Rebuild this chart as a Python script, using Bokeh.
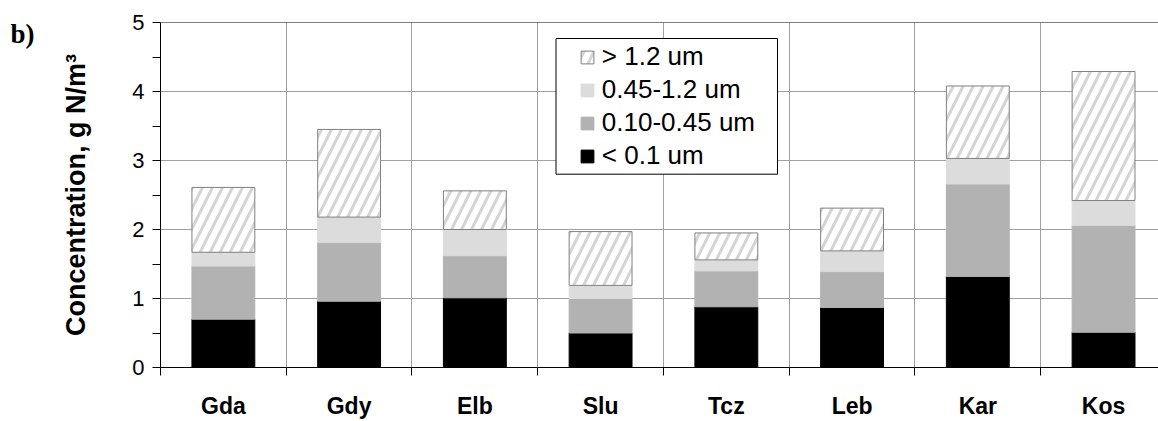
from bokeh.plotting import figure
from bokeh.models import (ColumnDataSource, FixedTicker, Range1d, Legend, LegendItem,
                          Label, BoxAnnotation, Span)
from bokeh.core.enums import CoordinateUnits
from bokeh.embed import file_html
from bokeh.resources import INLINE

# ---- data ----
categories = ["Gda", "Gdy", "Elb", "Slu", "Tcz", "Leb", "Kar", "Kos"]
below_0_1 = [0.70, 0.96, 1.01, 0.50, 0.88, 0.87, 1.32, 0.51]
from_0_10_to_0_45 = [0.77, 0.85, 0.61, 0.50, 0.52, 0.52, 1.34, 1.55]
from_0_45_to_1_2 = [0.20, 0.37, 0.38, 0.19, 0.16, 0.30, 0.37, 0.36]
above_1_2 = [0.94, 1.27, 0.56, 0.78, 0.39, 0.62, 1.05, 1.87]
series_labels = ["< 0.1 um", "0.10-0.45 um", "0.45-1.2 um", "> 1.2 um"]
y_ticks = [0, 1, 2, 3, 4, 5]
y_label = "Concentration, g N/m\u00b3"
panel_tag = "b)"

FONT = "Liberation Sans"

xpos = [i + 0.5 for i in range(len(categories))]
stackers = ["s0", "s1", "s2", "s3"]
source = ColumnDataSource(dict(x=xpos, s0=below_0_1, s1=from_0_10_to_0_45,
                               s2=from_0_45_to_1_2, s3=above_1_2))

p = figure(width=1158, height=421, output_backend="svg", toolbar_location=None,
           x_range=Range1d(0, 7.937), y_range=Range1d(0, 5),
           min_border_left=160, min_border_right=0, min_border_top=22, min_border_bottom=53)
p.outline_line_color = None
p.background_fill_color = "white"
p.border_fill_color = "white"

renderers = p.vbar_stack(stackers, x="x", width=0.5, source=source,
                         fill_color=["#000000", "#b2b2b2", "#dcdcdc", "#ffffff"],
                         line_color=["#000000", "#b2b2b2", "#dcdcdc", "#808080"],
                         hatch_pattern=[" ", " ", " ", "/"],
                         hatch_color="#d4d4d4", hatch_scale=20, hatch_weight=3)

# grids
p.xgrid.ticker = FixedTicker(ticks=list(range(1, len(categories) + 1)))
p.ygrid.ticker = FixedTicker(ticks=y_ticks[1:-1])
for g in (p.xgrid, p.ygrid):
    g.grid_line_color = "#a0a0a0"
    g.grid_line_width = 1
p.add_layout(Span(location=y_ticks[-1], dimension="width", line_color="black", line_width=1))

# y axis
ya = p.yaxis[0]
ya.ticker = FixedTicker(ticks=y_ticks, minor_ticks=[t + 0.5 for t in y_ticks[:-1]])
ya.axis_line_color = "black"
ya.major_tick_out = 8
ya.major_tick_in = 0
ya.minor_tick_out = 8
ya.minor_tick_in = 0
ya.major_tick_line_color = "black"
ya.minor_tick_line_color = "black"
ya.major_label_text_font = FONT
ya.major_label_text_font_size = "22px"
ya.major_label_text_color = "black"
ya.major_label_standoff = 8
ya.axis_label = y_label
ya.axis_label_text_font = FONT
ya.axis_label_text_font_size = "27px"
ya.axis_label_text_font_style = "bold"
ya.axis_label_text_color = "black"
ya.axis_label_standoff = 38

# x axis
xa = p.xaxis[0]
xa.ticker = FixedTicker(ticks=xpos, minor_ticks=list(range(0, len(categories) + 1)))
xa.major_label_overrides = {x: c for x, c in zip(xpos, categories)}
xa.axis_line_color = "black"
xa.major_tick_out = 0
xa.major_tick_in = 0
xa.minor_tick_out = 8
xa.minor_tick_in = 0
xa.minor_tick_line_color = "black"
xa.major_label_text_font = FONT
xa.major_label_text_font_size = "23px"
xa.major_label_text_font_style = "bold"
xa.major_label_text_color = "black"
xa.major_label_standoff = 17

# legend box
p.add_layout(BoxAnnotation(left=395.5, right=617, top=329, bottom=193.3,
                           left_units="screen", right_units="screen",
                           top_units="screen", bottom_units="screen",
                           fill_color="white", fill_alpha=1.0,
                           line_color="black", line_width=1, line_alpha=1.0))

items = [LegendItem(label=series_labels[i], renderers=[renderers[i]]) for i in (3, 2, 1, 0)]
legend = Legend(items=items, location=(418.8, 194.8), padding=0, margin=0, spacing=0,
                glyph_width=16, glyph_height=16, label_height=33, label_standoff=7,
                label_text_font=FONT, label_text_font_size="26px", label_text_color="black",
                border_line_color=None, background_fill_alpha=0.0)
p.add_layout(legend)

units = "canvas" if "canvas" in CoordinateUnits else "screen"
tag = Label(x=10, y=48, x_units=units, y_units=units, text=panel_tag,
            text_font="Liberation Serif", text_font_size="27px",
            text_font_style="bold", text_color="black")
p.add_layout(tag, "left")

open("out.html", "w").write(file_html(p, INLINE))
